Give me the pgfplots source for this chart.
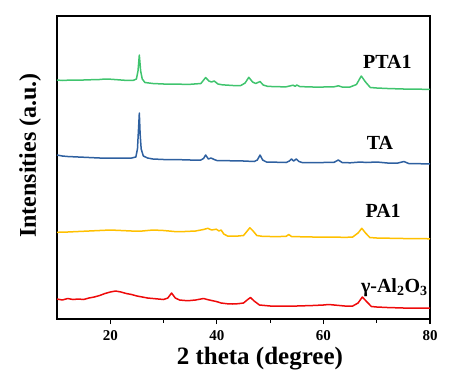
\documentclass[border=0pt]{standalone}
\usepackage{fontspec}
\setmainfont{Liberation Serif}
\usepackage{pgfplots}
\pgfplotsset{compat=1.18}
\definecolor{cgreen}{RGB}{64,196,110}
\definecolor{cblue}{RGB}{46,96,160}
\definecolor{cyellow}{RGB}{255,192,0}
\definecolor{cred}{RGB}{238,10,10}
\begin{document}
\begin{tikzpicture}
\begin{axis}[
  scale only axis, width=373pt, height=303pt,
  xmin=10, xmax=80, ymin=0, ymax=303,
  axis line style={line width=1.3pt},
  xtick={20,40,60,80}, minor xtick={30,50,70},
  ytick=\empty,
  tick align=outside, xtick pos=bottom,
  major tick length=5pt, minor tick length=3.5pt,
  tick style={line width=1.1pt, black},
  /pgf/number format/assume math mode=true,
  tick label style={font=\fontsize{15}{18}\selectfont\bfseries},
  xticklabel style={yshift=-3pt},
  xlabel={2 theta (degree)},
  xlabel style={font=\fontsize{25}{30}\selectfont\bfseries, at={(axis description cs:0.544,-0.129)}, anchor=center},
  ylabel={Intensities (a.u.)},
  ylabel style={font=\fontsize{24}{28}\selectfont\bfseries, at={(axis description cs:-0.072,0.54)}, anchor=center},
  clip=true,
  every axis plot/.append style={line width=1.5pt, line join=round},
]
\coordinate (O) at (rel axis cs:0,0);
% gamma-Al2O3
\addplot[cred] coordinates {
(10,20)(11,19)(12,20.5)(13,19.5)(14,20)(15,19.5)(16,21)(17,22)(18,23.5)(19,25.5)(20,27)(21,28)(22,27)(23,25.5)(24,24.5)(25,23)(26,22)(27,21)(28,20.5)(29,20)(30,19.5)(30.8,21)(31.5,26)(32.2,21)(33,19)(34,18.5)(35,18.5)(36,19)(37,20)(37.5,20.5)(38.2,19.5)(39,18.5)(39.9,17.5)(40.8,16)(42,15.2)(43,15)(44,15.3)(45,16)(45.8,19.5)(46.3,21.5)(47,18)(48,14)(49,13.5)(50,13)(52,13)(55,13)(58,13.5)(60,14)(61,14.5)(62,14)(64,13)(65.5,13)(66.5,16)(67.3,22)(68,18)(69,12.5)(70,12)(72,11.5)(75,11)(78,11)(80,10.8)
};
% PA1
\addplot[cyellow] coordinates {
(10,86.7)(12,87)(14,87.5)(16,88)(18,88.5)(20,89)(22,88.5)(24,88)(26,88)(28,89)(30,88.5)(32,87.5)(34,87.5)(36,88)(37.5,89.5)(38.3,90.7)(39,89)(39.9,89.8)(40.4,88)(40.8,89)(41.3,85)(42,83)(43,83)(44,83)(45,83.5)(45.7,88)(46.2,91.3)(46.8,88)(47.5,83.5)(48.5,82.7)(50,82.5)(52,82.5)(53,82.7)(53.5,84.5)(54,82.5)(56,82.2)(58,82)(60,82)(62,82)(64,81.6)(65.5,82)(66.5,86)(67.2,90.7)(67.9,86)(68.7,81.5)(70,81)(72,80.8)(75,80.5)(78,80.4)(80,80.2)
};
% TA
\addplot[cblue] coordinates {
(10,164)(11,163)(12,162.5)(14,162)(16,161.5)(18,161)(20,161)(22,161)(24,161)(24.8,162)(25.1,170)(25.3,190)(25.45,206)(25.6,185)(25.8,170)(26.2,163)(27,161)(28,160)(30,159.5)(32,159.5)(35,159)(37,159)(37.5,160.5)(37.9,164)(38.4,160)(38.9,161)(39.5,159.5)(40,158.5)(42,158.3)(45,158)(47,157.5)(47.6,159)(48.1,164)(48.6,159)(49.3,157)(51,156.8)(53,156.5)(53.6,158)(54,160)(54.4,158)(54.9,160)(55.4,157.5)(56,156.5)(58,156.5)(60,156.5)(62,156.7)(62.8,159)(63.5,156.5)(65,156.2)(67,157)(68,156.5)(70,157)(72,156)(74,156)(75.1,157.5)(76,155.5)(78,155.3)(80,155)
};
% PTA1
\addplot[cgreen] coordinates {
(10,239)(11,238.5)(12,238.8)(14,238.8)(16,239.2)(18,239.5)(19,240)(20,239.8)(22,239)(23,238.6)(24.3,238.6)(24.9,240)(25.2,248)(25.45,264)(25.7,248)(26,240)(26.5,236.5)(28,235.5)(30,235)(32,234.8)(35,234.7)(37,235.5)(37.9,241.5)(38.5,238)(39,237)(39.5,238)(40.2,235)(41,234.2)(43,233.5)(44.5,233.5)(45.3,236)(46,241.7)(46.7,237)(47.3,235.5)(48.1,237.5)(48.7,234)(49.5,232.7)(51,232.3)(53,232.2)(54.3,233.8)(54.7,232.7)(55,234)(55.6,232.4)(58,232)(60,232)(62,232.2)(62.8,233.2)(63.5,232)(65,232)(66.2,234.5)(67.1,243)(67.9,237)(68.8,231.5)(70,231)(72,230.5)(75,230)(78,229.8)(80,229.6)
};
\node[font=\fontsize{20}{24}\selectfont\bfseries] at (axis cs:72.0,257) {PTA1};
\node[font=\fontsize{20}{24}\selectfont\bfseries] at (axis cs:70.6,176) {TA};
\node[font=\fontsize{20}{24}\selectfont\bfseries] at (axis cs:71.2,108) {PA1};
\node[font=\fontsize{20}{24}\selectfont\bfseries] at (axis cs:73.3,31) {γ-Al\textsubscript{2}O\textsubscript{3}};
\end{axis}
\path (O) ++(-57pt,-65pt) rectangle ++(465pt,384pt);
\end{tikzpicture}
\end{document}
